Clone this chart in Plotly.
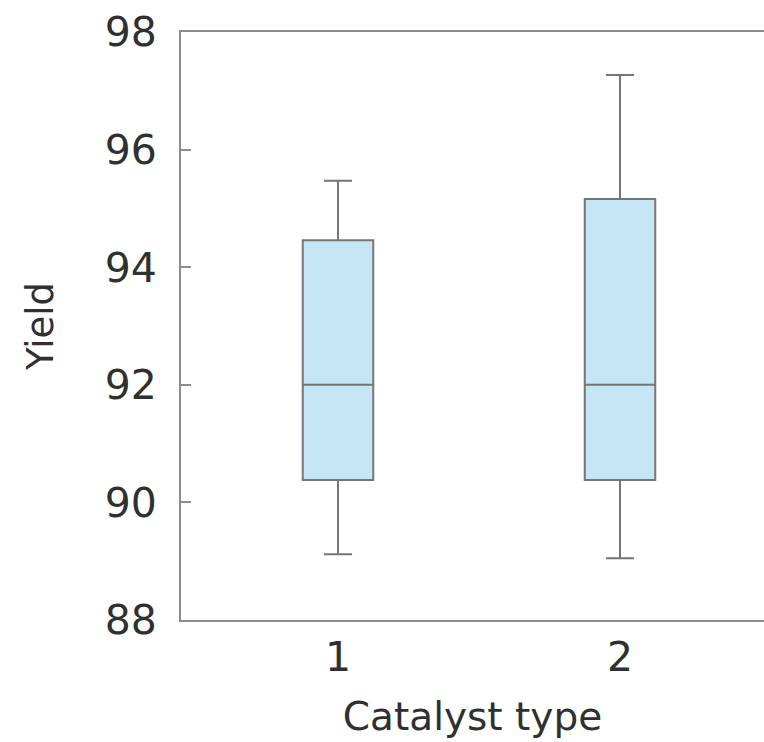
import plotly.graph_objects as go

categories = [1, 2]
q1 = [90.38, 90.38]
median = [92.0, 92.0]
q3 = [94.46, 95.16]
lower = [89.12, 89.05]
upper = [95.47, 97.27]
tick_vals_y = [88, 90, 92, 94, 96, 98]

fig = go.Figure()
for i, c in enumerate(categories):
    fig.add_trace(go.Box(
        x=[c], q1=[q1[i]], median=[median[i]], q3=[q3[i]],
        lowerfence=[lower[i]], upperfence=[upper[i]],
        width=0.25, whiskerwidth=0.4,
        fillcolor="#c6e5f5",
        line=dict(color="#767676", width=2),
        showlegend=False, hoverinfo="skip",
    ))

font_family = "DejaVu Sans, Liberation Sans, sans-serif"
fig.update_layout(
    width=764, height=742,
    margin=dict(l=181, r=0, t=32, b=122),
    paper_bgcolor="white", plot_bgcolor="white",
    font=dict(family=font_family, color="#303030"),
)
fig.update_xaxes(
    range=[0.4433, 2.5106], tickvals=categories, ticktext=[str(c) for c in categories],
    showline=True, mirror=True, linecolor="#8c8c8c", linewidth=2,
    showgrid=False, zeroline=False, ticks="",
    tickfont=dict(size=41), ticklabelstandoff=0,
    title=dict(text="Catalyst type", font=dict(size=39), standoff=22),
)
fig.update_yaxes(
    range=[88, 98], tickvals=tick_vals_y,
    showline=True, mirror=False, linecolor="#8c8c8c", linewidth=2,
    showgrid=False, zeroline=False, ticks="inside", ticklen=10, tickcolor="#8c8c8c", tickwidth=2,
    tickfont=dict(size=41), ticklabelstandoff=14,
    title=dict(text="Yield", font=dict(size=37), standoff=40),
)
fig.write_html("out.html", config={"displayModeBar": False},
               post_script="document.body.style.margin='0';")
